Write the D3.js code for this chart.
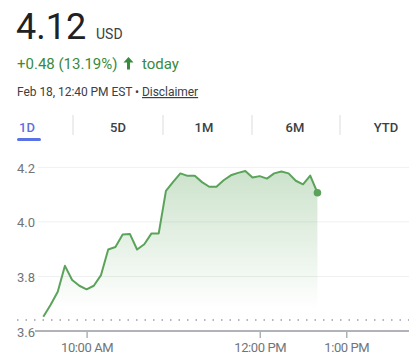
<!DOCTYPE html>
<html>
<head>
<meta charset="utf-8">
<script src="https://cdn.jsdelivr.net/npm/d3@7"></script>
<style>
  html, body { margin: 0; padding: 0; background: #fff; }
  svg { display: block; font-family: Roboto, Arial, sans-serif; }
</style>
</head>
<body>
<svg id="chart" width="409" height="357"></svg>
<script>
// ---- data ----
const times = ["09:30","09:35","09:40","09:45","09:50","09:55","10:00","10:05","10:10","10:15",
  "10:20","10:25","10:30","10:35","10:40","10:45","10:50","10:55","11:00","11:05",
  "11:10","11:15","11:20","11:25","11:30","11:35","11:40","11:45","11:50","11:55",
  "12:00","12:05","12:10","12:15","12:20","12:25","12:30","12:35","12:40"];
const prices = [3.652,3.695,3.744,3.839,3.787,3.766,3.753,3.766,3.805,3.899,
  3.908,3.954,3.956,3.899,3.918,3.958,3.958,4.114,4.147,4.178,
  4.169,4.169,4.146,4.129,4.129,4.153,4.171,4.180,4.187,4.163,
  4.168,4.159,4.178,4.185,4.178,4.151,4.138,4.170,4.107];
const prevClose = 3.64;
const yTicks = [3.6, 3.8, 4.0, 4.2];
const xTickTimes = ["10:00","12:00","13:00"];
const xTickLabels = ["10:00 AM","12:00 PM","1:00 PM"];
const tabs = ["1D","5D","1M","6M","YTD"];
const priceText = "4.12";
const currency = "USD";
const changeText = "+0.48 (13.19%)";
const periodText = "today";
const dateText = "Feb 18, 12:40 PM EST • ";
const disclaimer = "Disclaimer";

// ---- helpers ----
const toMin = t => { const [h, m] = t.split(":").map(Number); return h * 60 + m; };
const data = times.map((t, i) => ({ t: toMin(t), v: prices[i] }));

const svg = d3.select("#chart");
const green = "#5ba35a";
const textGreen = "#3a8a3e";
const grey = "#70757a";

// ---- header ----
svg.append("text").attr("x", 16).attr("y", 39).attr("font-size", 36).attr("fill", "#202124")
  .text(priceText);
svg.append("text").attr("x", 96).attr("y", 39).attr("font-size", 14).attr("fill", "#3c4043")
  .text(currency);
svg.append("text").attr("x", 17).attr("y", 69).attr("font-size", 15).attr("fill", textGreen)
  .text(changeText);
// up arrow
svg.append("path")
  .attr("d", "M128.5,57 L133.5,62.5 L130,62.5 L130,69.5 L127,69.5 L127,62.5 L123.5,62.5 Z")
  .attr("fill", textGreen);
svg.append("text").attr("x", 142).attr("y", 69).attr("font-size", 15).attr("fill", textGreen)
  .text(periodText);
const dt = svg.append("text").attr("x", 17).attr("y", 96).attr("font-size", 12)
  .attr("fill", "#3c4043").attr("letter-spacing", -0.05);
dt.append("tspan").text(dateText);
dt.append("tspan").attr("text-decoration", "underline").text(disclaimer);

// ---- tabs ----
const tabCenters = [27, 118, 204, 295, 386];
const sepX = [73, 163, 252, 340];
svg.selectAll(".sep").data(sepX).join("line")
  .attr("x1", d => d).attr("x2", d => d).attr("y1", 115).attr("y2", 135)
  .attr("stroke", "#dadce0").attr("stroke-width", 1);
svg.selectAll(".tab").data(tabs).join("text")
  .attr("x", (d, i) => tabCenters[i]).attr("y", 132)
  .attr("text-anchor", "middle").attr("font-size", 13).attr("font-weight", 500)
  .attr("fill", (d, i) => i === 0 ? "#5f6fe0" : "#3c4043")
  .text(d => d);
svg.append("rect").attr("x", 17).attr("y", 138).attr("width", 24).attr("height", 3)
  .attr("rx", 1.5).attr("fill", "#5b72e6");

// ---- scales ----
const x = d3.scaleLinear().domain([toMin("09:30"), toMin("16:00")]).range([43.3, 606]);
const y = d3.scaleLinear().domain([3.6, 4.2]).range([331, 167.4]);

// gridlines
svg.selectAll(".grid").data(yTicks.filter(d => d > 3.6)).join("line")
  .attr("x1", 38).attr("x2", 409).attr("y1", d => y(d)).attr("y2", d => y(d))
  .attr("stroke", "#eef0f1").attr("stroke-width", 1);

// y labels
svg.selectAll(".ylab").data(yTicks).join("text")
  .attr("x", 17).attr("y", d => y(d) + 5.5)
  .attr("font-size", 13).attr("fill", grey)
  .text(d => d.toFixed(1));

// gradient area
const defs = svg.append("defs");
const grad = defs.append("linearGradient").attr("id", "areaGrad")
  .attr("gradientUnits", "userSpaceOnUse")
  .attr("x1", 0).attr("x2", 0).attr("y1", y(4.2)).attr("y2", y(3.68));
grad.append("stop").attr("offset", 0).attr("stop-color", green).attr("stop-opacity", 0.32);
grad.append("stop").attr("offset", 1).attr("stop-color", green).attr("stop-opacity", 0);

svg.append("path").datum(data)
  .attr("d", d3.area().x(d => x(d.t)).y0(y(prevClose)).y1(d => y(d.v)))
  .attr("fill", "url(#areaGrad)");

// previous close dotted line
svg.append("line").attr("x1", 17).attr("x2", 409)
  .attr("y1", y(prevClose)).attr("y2", y(prevClose))
  .attr("stroke", "#9aa0a6").attr("stroke-width", 1.5).attr("stroke-dasharray", "1.5 7");

// x axis
const xAxis = d3.axisBottom(x)
  .tickValues(xTickTimes.map(toMin))
  .tickFormat((d, i) => xTickLabels[i])
  .tickSize(7).tickPadding(5);
const gx = svg.append("g").attr("transform", `translate(0,${y(3.6)})`).call(xAxis);
gx.select(".domain").remove();
gx.selectAll(".tick line").attr("stroke", "#9aa0a6").attr("stroke-width", 1.2);
gx.selectAll(".tick text").attr("font-size", 13).attr("fill", grey)
  .attr("font-family", "Roboto, Arial, sans-serif").attr("letter-spacing", -0.4);
svg.append("line").attr("x1", 35).attr("x2", 409).attr("y1", y(3.6)).attr("y2", y(3.6))
  .attr("stroke", "#b0b3b8").attr("stroke-width", 1.8);

// line
svg.append("path").datum(data)
  .attr("d", d3.line().x(d => x(d.t)).y(d => y(d.v)))
  .attr("fill", "none").attr("stroke", green).attr("stroke-width", 2)
  .attr("stroke-linejoin", "round");

// last point dot
const last = data[data.length - 1];
svg.append("circle").attr("cx", x(last.t)).attr("cy", y(last.v)).attr("r", 3.8).attr("fill", green);
</script>
</body>
</html>
